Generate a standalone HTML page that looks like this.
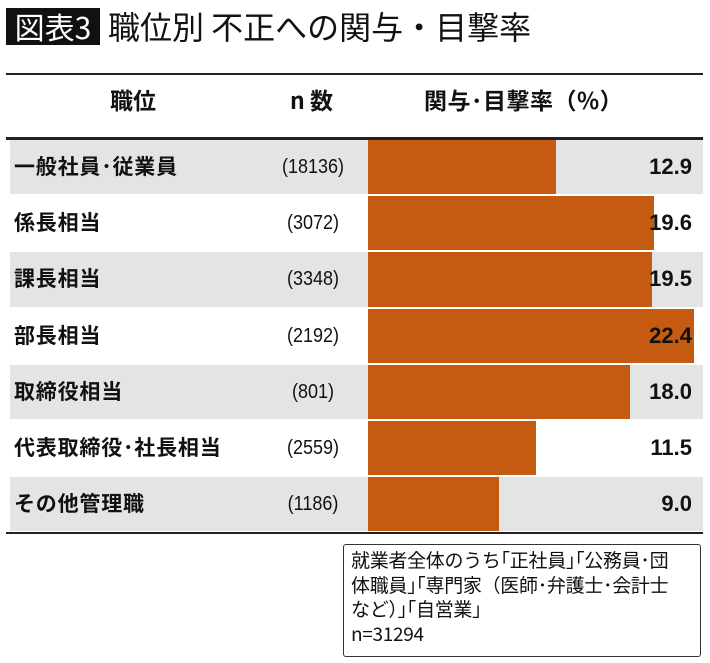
<!DOCTYPE html>
<html><head><meta charset="utf-8">
<style>
body{margin:0;width:710px;height:663px;background:#fff;font-family:"Liberation Sans","Noto Sans CJK JP",sans-serif;position:relative;overflow:hidden;color:#111}
.a{position:absolute;white-space:nowrap}
</style></head><body>
<div class="a" style="left:6px;top:8px;width:94px;height:37px;background:#111;color:#fff;font-size:30px;line-height:37px;text-align:center;font-family:'Noto Sans CJK JP',sans-serif">図表3</div>
<div class="a" style="left:108px;top:4px;font-size:32px;line-height:44px;font-family:'Noto Sans CJK JP',sans-serif">職位別 不正への関与・目撃率</div>
<div class="a" style="left:6px;top:73px;width:697px;height:2px;background:#222"></div>
<div class="a" style="left:110px;top:82px;font-size:23px;font-weight:bold;font-family:'Noto Sans CJK JP',sans-serif">職位</div>
<div class="a" style="left:290px;top:82px;font-size:23px;font-weight:bold;font-family:'Noto Sans CJK JP',sans-serif">n 数</div>
<div class="a" style="left:424px;top:82px;font-size:23px;font-weight:bold;letter-spacing:0.5px;font-family:'Noto Sans CJK JP',sans-serif">関与･目撃率（%）</div>
<div class="a" style="left:6px;top:137px;width:697px;height:3px;background:#222"></div>
<div id="rows"></div>
<div class="a" style="left:6px;top:532px;width:697px;height:2px;background:#222"></div>
<div class="a" style="left:343px;top:544px;width:358px;height:113px;border:1.5px solid #333;border-radius:3px;font-size:19px;line-height:24.5px;padding:3px 0 0 7px;box-sizing:border-box;font-family:'Noto Sans CJK JP',sans-serif;white-space:normal;letter-spacing:-0.3px">就業者全体のうち｢正社員｣｢公務員･団<br>体職員｣｢専門家（医師･弁護士･会計士<br>など）｣｢自営業｣<br>n=31294</div>
<script>
const categories=["一般社員･従業員","係長相当","課長相当","部長相当","取締役相当","代表取締役･社長相当","その他管理職"];
const nCounts=["(18136)","(3072)","(3348)","(2192)","(801)","(2559)","(1186)"];
const rates=[12.9,19.6,19.5,22.4,18.0,11.5,9.0];
const x0=368, scale=14.57, top0=140, pitch=56.2;
const xs=v=>v*scale;
const root=document.getElementById('rows');
categories.forEach((c,i)=>{
  const y=top0+i*pitch;
  const row=document.createElement('div');
  row.className='a';
  
  
  row.style.cssText=`left:10px;top:${y}px;width:693px;height:${pitch-2}px;background:${i%2==0?'#e4e4e4':'#fff'}`;
  root.appendChild(row);
  const lab=document.createElement('div');
  lab.className='a';
  
  
  lab.style.cssText=`left:14px;top:${y+12}px;font-size:21px;font-weight:bold;line-height:28px;letter-spacing:0.8px;font-family:'Noto Sans CJK JP',sans-serif`;
  lab.textContent=c;root.appendChild(lab);
  const n=document.createElement('div');
  n.className='a';
  
  
  n.style.cssText=`left:263px;width:100px;text-align:center;top:${y+14}px;font-size:20px;line-height:26px;transform:scaleX(0.9)`;
  n.textContent=nCounts[i];root.appendChild(n);
  const b=document.createElement('div');
  b.className='a';
  
  
  b.style.cssText=`left:${x0}px;top:${y}px;width:${xs(rates[i])}px;height:${pitch-2}px;background:#c55a11`;
  root.appendChild(b);
  const v=document.createElement('div');
  v.className='a';
  
  
  v.style.cssText=`left:592px;width:100px;text-align:right;top:${y+13}px;font-size:22px;font-weight:bold;line-height:28px;color:#111`;
  v.textContent=rates[i].toFixed(1);root.appendChild(v);
});
</script>
</body></html>
